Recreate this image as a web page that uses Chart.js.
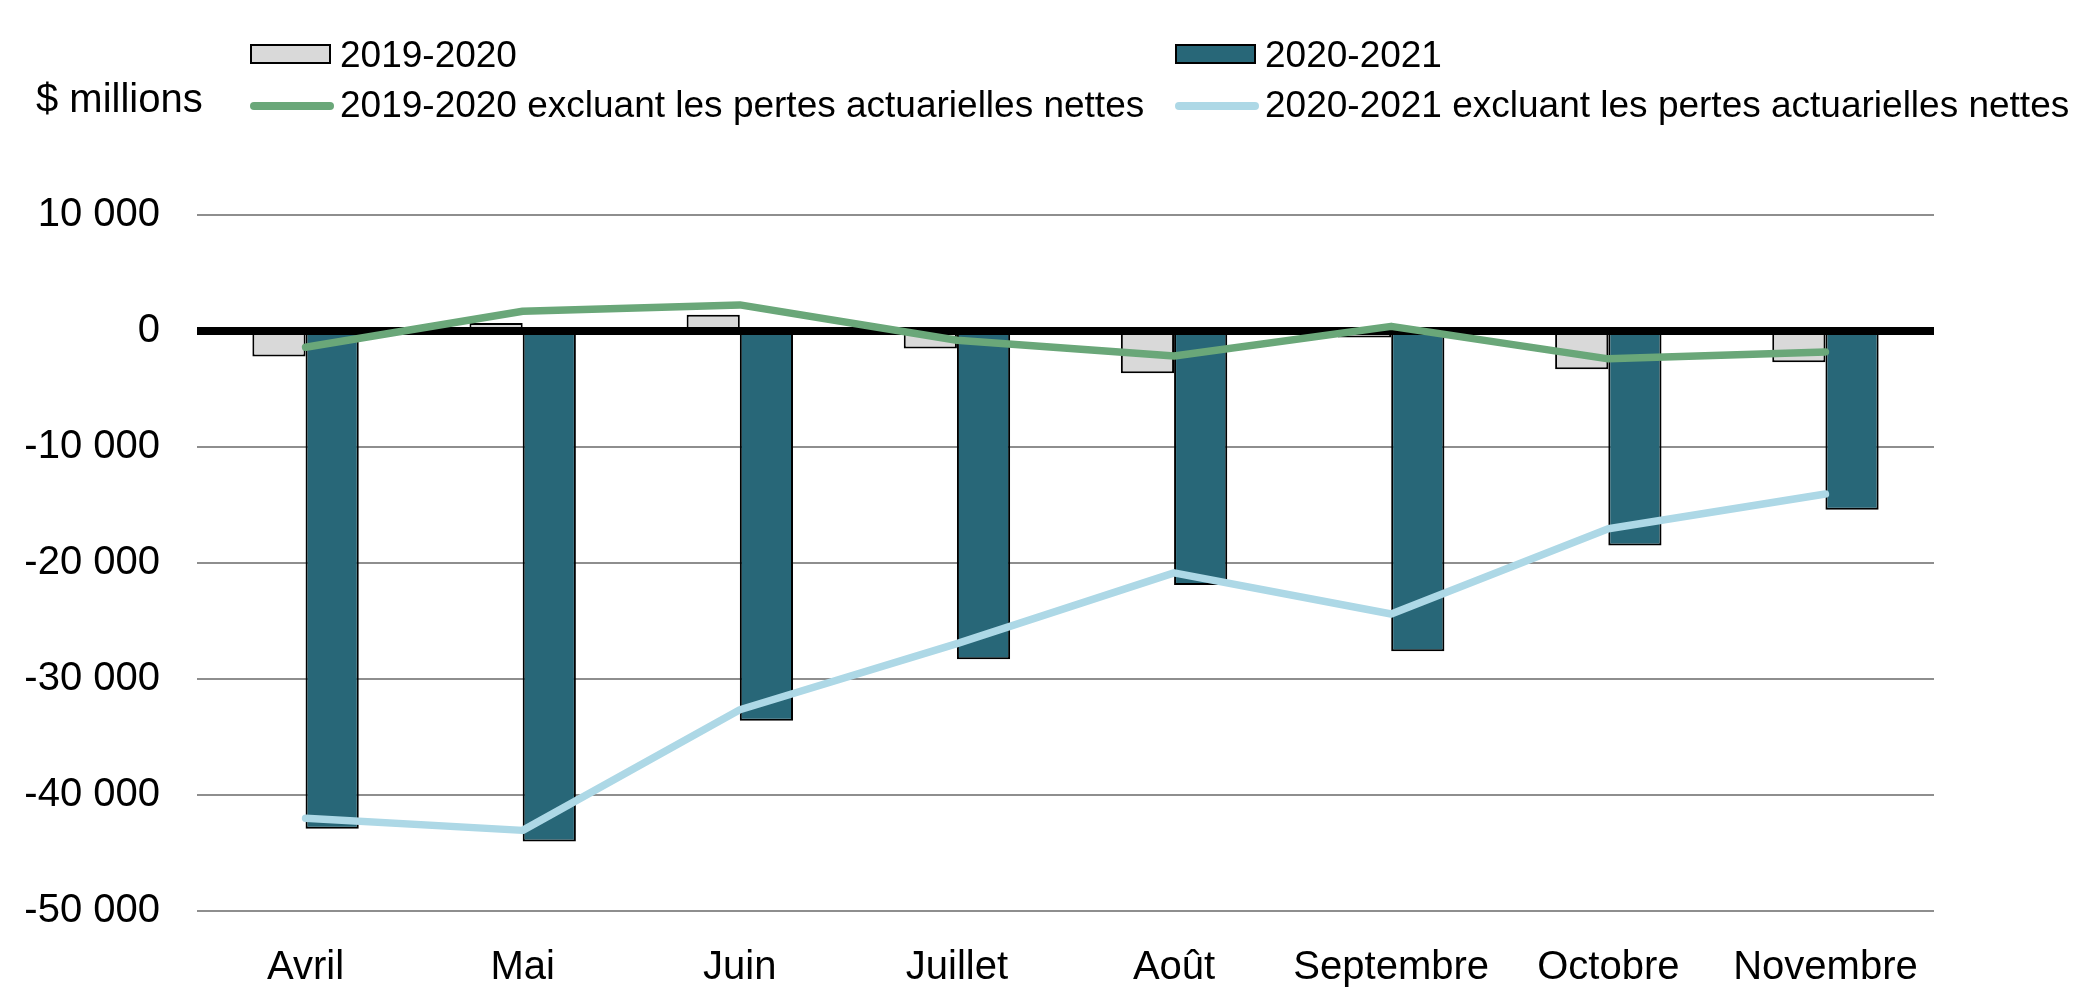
<!DOCTYPE html>
<html lang="fr">
<head>
<meta charset="utf-8">
<title>Solde budgétaire mensuel</title>
<script src="https://cdn.jsdelivr.net/npm/chart.js@4.4.1/dist/chart.umd.min.js"></script>
<style>
  html, body { margin: 0; padding: 0; background: #fff; }
  #wrap { position: relative; width: 2091px; height: 1004px; font-family: "Liberation Sans", Arial, sans-serif; color: #000; }
  #chart { position: absolute; left: 0; top: 0; }
  .unit { position: absolute; left: 36px; top: 78px; font-size: 40px; line-height: 40px; white-space: nowrap; }
  .item { position: absolute; width: 900px; height: 37px; font-size: 37px; line-height: 37px; white-space: nowrap; }
  .item .swatch { position: absolute; left: 0; box-sizing: border-box; }
  .item .label { position: absolute; left: 90px; top: 0; }
</style>
</head>
<body>
<div id="wrap">
  <canvas id="chart" width="2091" height="1004"></canvas>
  <div class="unit">$ millions</div>
  <div id="legend"></div>
</div>
<script>
const months = ["Avril", "Mai", "Juin", "Juillet", "Août", "Septembre", "Octobre", "Novembre"];
const seriesNames = [
  "2019-2020",
  "2020-2021",
  "2019-2020 excluant les pertes actuarielles nettes",
  "2020-2021 excluant les pertes actuarielles nettes"
];
const bars2019 = [-2200, 700, 1400, -1500, -3650, -550, -3300, -2700];
const bars2020 = [-42900, -44000, -33600, -28300, -21900, -27600, -18500, -15400];
const line2019 = [-1400, 1700, 2250, -800, -2150, 400, -2400, -1800];
const line2020 = [-42000, -43050, -32650, -26950, -20850, -24400, -17050, -14050];
const yTicks = [10000, 0, -10000, -20000, -30000, -40000, -50000];

const axisFont = { family: '"Liberation Sans", Arial, sans-serif', size: 40 };

function fmt(v) {
  const s = String(Math.abs(v)).replace(/\B(?=(\d{3})+(?!\d))/g, " ");
  return v < 0 ? "-" + s : s;
}

// black zero line, drawn over the bars but under the lines
const zeroLine = {
  id: "zeroLine",
  afterDatasetDraw(chart, args) {
    if (args.index !== 0) return;
    const y = chart.scales.y.getPixelForValue(0);
    const { left, right } = chart.chartArea;
    const ctx = chart.ctx;
    ctx.save();
    ctx.strokeStyle = "#000";
    ctx.lineWidth = 8;
    ctx.beginPath();
    ctx.moveTo(left, y);
    ctx.lineTo(right, y);
    ctx.stroke();
    ctx.restore();
  }
};

const data = {
  labels: months,
  datasets: [
    {
      type: "bar",
      label: seriesNames[0],
      data: bars2019,
      backgroundColor: "#d9d9d9",
      borderColor: "#000",
      borderWidth: 2,
      order: 1
    },
    {
      type: "bar",
      label: seriesNames[1],
      data: bars2020,
      backgroundColor: "#286778",
      borderColor: "#000",
      borderWidth: 2,
      order: 1
    },
    {
      type: "line",
      label: seriesNames[2],
      data: line2019,
      borderColor: "#6aa779",
      backgroundColor: "#6aa779",
      borderWidth: 7.5,
      borderCapStyle: "round",
      borderJoinStyle: "round",
      pointRadius: 0,
      tension: 0,
      order: 0
    },
    {
      type: "line",
      label: seriesNames[3],
      data: line2020,
      borderColor: "#add8e6",
      backgroundColor: "#add8e6",
      borderWidth: 7.5,
      borderCapStyle: "round",
      borderJoinStyle: "round",
      pointRadius: 0,
      tension: 0,
      order: 0
    }
  ]
};

const config = {
  data: data,
  options: {
    responsive: false,
    devicePixelRatio: 1,
    animation: false,
    layout: {
      padding: { top: 215, right: 157, bottom: 0, left: 0 }
    },
    datasets: {
      bar: {
        categoryPercentage: 0.49,
        barPercentage: 1
      }
    },
    scales: {
      x: {
        offset: true,
        grid: { display: false },
        border: { display: false },
        ticks: { color: "#000", font: axisFont, padding: 25, maxRotation: 0, autoSkip: false },
        afterFit: (s) => { s.height = 93; }
      },
      y: {
        min: -50000,
        max: 10000,
        border: { display: false },
        grid: {
          drawTicks: false,
          lineWidth: 2,
          color: (ctx) => (ctx.tick && ctx.tick.value === 0 ? "rgba(0,0,0,0)" : "#8e8e8e")
        },
        afterBuildTicks: (s) => { s.ticks = yTicks.map((v) => ({ value: v })); },
        ticks: {
          color: "#000",
          font: axisFont,
          padding: 37,
          callback: (v) => fmt(v)
        },
        afterFit: (s) => { s.width = 197; }
      }
    },
    plugins: {
      legend: { display: false },
      tooltip: { enabled: false }
    }
  },
  plugins: [zeroLine]
};

const chart = new Chart(document.getElementById("chart"), config);

// legend in two columns, built from the datasets
const legendCols = [250, 1175];
const legendRows = [36, 86];
const legendEl = document.getElementById("legend");
chart.data.datasets.forEach((ds, i) => {
  const item = document.createElement("div");
  item.className = "item";
  item.style.left = legendCols[i % 2] + "px";
  item.style.top = legendRows[Math.floor(i / 2)] + "px";
  const sw = document.createElement("div");
  sw.className = "swatch";
  if (ds.type === "bar") {
    sw.style.top = "8px";
    sw.style.width = "81px";
    sw.style.height = "20px";
    sw.style.background = ds.backgroundColor;
    sw.style.border = "2px solid " + ds.borderColor;
  } else {
    sw.style.top = "16px";
    sw.style.width = "84px";
    sw.style.height = "8px";
    sw.style.borderRadius = "4px";
    sw.style.background = ds.borderColor;
  }
  const lab = document.createElement("span");
  lab.className = "label";
  lab.textContent = ds.label;
  item.appendChild(sw);
  item.appendChild(lab);
  legendEl.appendChild(item);
});
</script>
</body>
</html>
